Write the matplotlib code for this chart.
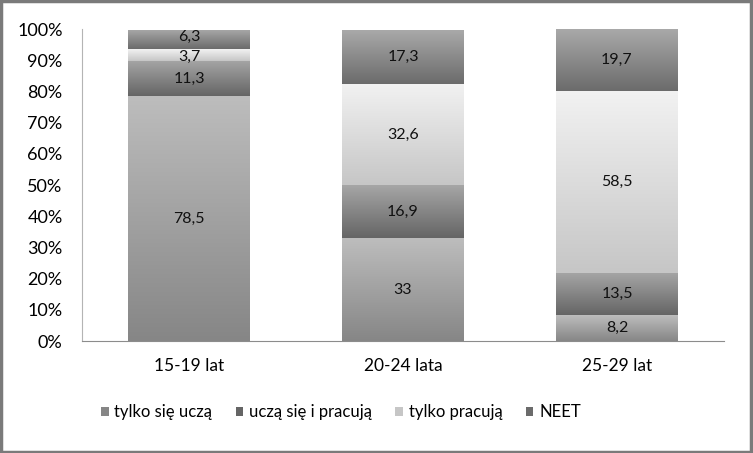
import matplotlib.pyplot as plt
import numpy as np
from matplotlib.colors import LinearSegmentedColormap
from matplotlib.patches import Rectangle, Patch

plt.rcParams['font.family'] = ['Lato', 'DejaVu Sans']

categories = ['15-19 lat', '20-24 lata', '25-29 lat']
series_names = ['tylko się uczą', 'uczą się i pracują', 'tylko pracują', 'NEET']
values = [
    [78.5, 33, 8.2],     # tylko się uczą
    [11.3, 16.9, 13.5],  # uczą się i pracują
    [3.7, 32.6, 58.5],   # tylko pracują
    [6.3, 17.3, 19.7],   # NEET
]
labels = [
    ['78,5', '33', '8,2'],
    ['11,3', '16,9', '13,5'],
    ['3,7', '32,6', '58,5'],
    ['6,3', '17,3', '19,7'],
]

# (top colour, bottom colour) for each series gradient
gradients = [
    ('#bdbdbd', '#868686'),
    ('#a6a6a6', '#656565'),
    ('#f2f2f2', '#c6c6c6'),
    ('#a9a9a9', '#6b6b6b'),
]

fig = plt.figure(figsize=(7.53, 4.53), dpi=100)
ax = fig.add_axes([82 / 753, 1 - 341 / 453, (724 - 82) / 753, (341 - 29) / 453])

x = np.arange(len(categories))
width = 0.57
bottoms = np.zeros(len(categories))
grad = np.linspace(0, 1, 256).reshape(-1, 1)

for i, vals in enumerate(values):
    vals = np.array(vals, dtype=float)
    bars = ax.bar(x, vals, width, bottom=bottoms, color='none', edgecolor='none')
    cmap = LinearSegmentedColormap.from_list('g%d' % i, [gradients[i][1], gradients[i][0]])
    for j, b in enumerate(bars):
        x0, y0 = b.get_x(), b.get_y()
        w, h = b.get_width(), b.get_height()
        im = ax.imshow(grad, cmap=cmap, aspect='auto', origin='lower',
                       extent=[x0, x0 + w, y0, y0 + h], zorder=2)
        im.set_clip_path(b)
        yc = y0 + h / 2
        dy = 0
        if vals[j] < 5:
            dy = -1
        elif i == 3 and vals[j] < 8:
            dy = 2
        ax.annotate(labels[i][j], (x[j], yc), xytext=(0, dy), textcoords='offset points',
                    ha='center', va='center', fontsize=11.5, color='#111111', zorder=3)
    bottoms += vals

ax.set_xlim(-0.5, 2.5)
ax.set_ylim(0, 100)
ax.set_yticks(np.arange(0, 101, 10))
ax.set_yticklabels(['%d%%' % v for v in range(0, 101, 10)], fontsize=13)
ax.set_xticks(x)
ax.set_xticklabels(categories, fontsize=12.5)
ax.tick_params(axis='y', length=0, pad=14)
ax.tick_params(axis='x', length=0, pad=12)
for s in ['top', 'right']:
    ax.spines[s].set_visible(False)
ax.spines['bottom'].set_color('#8c8c8c')
ax.spines['left'].set_color('#b4b4b4')

handles = [Patch(facecolor=gradients[i][1], edgecolor='none') for i in range(4)]
fig.legend(handles, series_names, loc='center', bbox_to_anchor=(341 / 753, 1 - 412 / 453),
           ncol=4, frameon=False, fontsize=12, handlelength=0.45, handleheight=0.45,
           handletextpad=0.35, columnspacing=1.4)

fig.patches.append(Rectangle((0.0015, 0.002), 0.996, 0.995, transform=fig.transFigure,
                             fill=False, edgecolor='#7a7a7a', linewidth=2.5))

fig.savefig('out.png', dpi=100)
